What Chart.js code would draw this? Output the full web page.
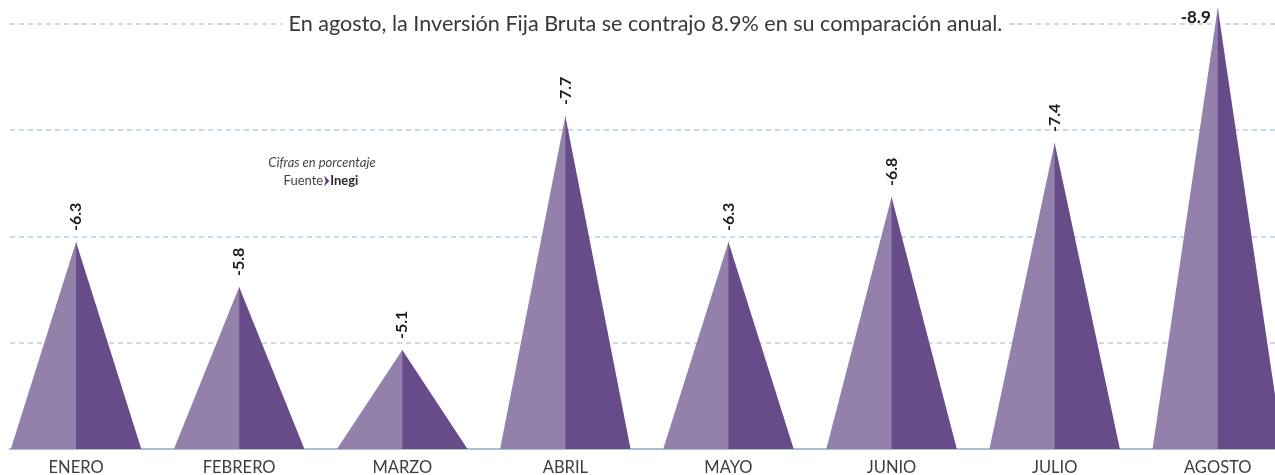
<!DOCTYPE html>
<html><head><meta charset="utf-8">
<script src="https://cdn.jsdelivr.net/npm/chart.js@4/dist/chart.umd.min.js"></script>
<style>html,body{margin:0;padding:0;background:#fff}#wrap{width:1275px;height:475px;position:relative}</style>
</head><body><div id="wrap"><canvas id="c"></canvas></div>
<script>
const months = ['ENERO','FEBRERO','MARZO','ABRIL','MAYO','JUNIO','JULIO','AGOSTO'];
const values = [6.3, 5.8, 5.1, 7.7, 6.3, 6.8, 7.4, 8.9];
const valueLabels = ['-6.3','-5.8','-5.1','-7.7','-6.3','-6.8','-7.4','-8.9'];
const gridValues = [5.18, 6.36, 7.54, 8.72];
const axisBase = 4;
const titleText = 'En agosto, la Inversión Fija Bruta se contrajo 8.9% en su comparación anual.';
const noteLine1 = 'Cifras en porcentaje';
const noteSource = ['Fuente', 'Inegi'];

const LIGHT = '#9481ab';
const DARK = '#684b89';
const FONT = 'Lato';
const TFONT = 'Lato';

const trianglePlugin = {
  id: 'triangles',
  afterDatasetsDraw(chart) {
    const ctx = chart.ctx;
    const meta = chart.getDatasetMeta(0);
    const area = chart.chartArea;
    ctx.save();
    ctx.beginPath();
    ctx.rect(area.left, 0, area.right - area.left, area.bottom + 1);
    ctx.clip();
    meta.data.forEach((bar) => {
      const p = bar.getProps(['x', 'y', 'base', 'width'], true);
      const half = p.width / 2;
      ctx.fillStyle = LIGHT;
      ctx.beginPath();
      ctx.moveTo(p.x - half, p.base);
      ctx.lineTo(p.x, p.y);
      ctx.lineTo(p.x + 0.5, p.y);
      ctx.lineTo(p.x + 0.5, p.base);
      ctx.closePath();
      ctx.fill();
      ctx.fillStyle = DARK;
      ctx.beginPath();
      ctx.moveTo(p.x, p.base);
      ctx.lineTo(p.x, p.y);
      ctx.lineTo(p.x + half, p.base);
      ctx.closePath();
      ctx.fill();
    });
    ctx.restore();
    // value labels
    ctx.save();
    ctx.fillStyle = '#1b1b1b';
    ctx.font = 'bold 16px ' + FONT;
    meta.data.forEach((bar, i) => {
      const p = bar.getProps(['x', 'y'], true);
      const txt = valueLabels[i];
      const w = ctx.measureText(txt).width;
      if (p.y - 12 - w < area.top) {
        ctx.font = 'bold 17px ' + FONT;
        ctx.textAlign = 'right';
        ctx.textBaseline = 'middle';
        ctx.fillText(txt, p.x - 7, p.y + 9);
        ctx.font = 'bold 16px ' + FONT;
      } else {
        ctx.save();
        ctx.translate(p.x, p.y - 11);
        ctx.rotate(-Math.PI / 2);
        ctx.textAlign = 'left';
        ctx.textBaseline = 'middle';
        ctx.fillText(txt, 0, 0);
        ctx.restore();
      }
    });
    ctx.restore();
  },
  afterDraw(chart) {
    const ctx = chart.ctx;
    const yS = chart.scales.y;
    const cx = chart.width / 2 + 8;
    const ty = yS.getPixelForValue(gridValues[gridValues.length - 1]);
    ctx.save();
    ctx.font = '19px ' + TFONT;
    const w0 = ctx.measureText(titleText).width;
    const fs = 19 * 714 / w0;
    ctx.font = fs.toFixed(2) + 'px ' + TFONT;
    const w = ctx.measureText(titleText).width;
    ctx.fillStyle = '#fff';
    ctx.fillRect(cx - w / 2 - 6, ty - 14, w + 12, 28);
    ctx.fillStyle = '#383838';
    ctx.textAlign = 'center';
    ctx.textBaseline = 'middle';
    ctx.fillText(titleText, cx, ty);
    // note
    ctx.font = 'italic 13px ' + FONT;
    ctx.fillStyle = '#444';
    ctx.fillText(noteLine1, 322, 163);
    ctx.font = '13px ' + FONT;
    const w1 = ctx.measureText(noteSource[0]).width;
    ctx.font = 'bold 13px ' + FONT;
    const w2 = ctx.measureText(noteSource[1]).width;
    const arrowW = 7;
    let x0 = 321 - (w1 + arrowW + w2) / 2;
    ctx.textAlign = 'left';
    ctx.font = '13px ' + FONT;
    ctx.fillStyle = '#444';
    ctx.fillText(noteSource[0], x0, 181);
    ctx.fillStyle = '#5b2e8c';
    ctx.beginPath();
    ctx.moveTo(x0 + w1 + 1, 175.5);
    ctx.lineTo(x0 + w1 + 6, 181);
    ctx.lineTo(x0 + w1 + 1, 186.5);
    ctx.lineTo(x0 + w1 + 2.5, 181);
    ctx.closePath();
    ctx.fill();
    ctx.font = 'bold 13px ' + FONT;
    ctx.fillStyle = '#2a2a2a';
    ctx.fillText(noteSource[1], x0 + w1 + arrowW, 181);
    ctx.restore();
  }
};

new Chart(document.getElementById('c'), {
  type: 'bar',
  data: {
    datasets: [{
      data: values.map((v, i) => ({ x: i, y: [axisBase, v] })),
      backgroundColor: 'rgba(0,0,0,0)',
      borderWidth: 0,
      categoryPercentage: 0.8,
      barPercentage: 1.0
    }]
  },
  options: {
    responsive: true,
    maintainAspectRatio: false,
    animation: false,
    layout: { padding: { left: 10, right: 0, top: 0, bottom: 0 } },
    plugins: { legend: { display: false }, tooltip: { enabled: false }, title: { display: false } },
    scales: {
      x: {
        type: 'linear',
        offset: false,
        min: -0.405,
        max: 7.351,
        grid: { display: false, drawTicks: false, offset: false },
        border: { display: true, color: '#a9c2ca', width: 2 },
        afterBuildTicks: (s) => { s.ticks = months.map((m, i) => ({ value: i })); },
        afterFit: (s) => { s.height = 26; },
        ticks: {
          autoSkip: false,
          maxRotation: 0,
          padding: 9,
          color: '#3d3d3d',
          font: { family: FONT, size: 16.5 },
          callback: (v) => months[v]
        }
      },
      y: {
        min: axisBase,
        max: 8.99,
        afterBuildTicks: (s) => { s.ticks = gridValues.map(v => ({ value: v })); },
        afterFit: (s) => { s.width = 0; },
        ticks: { display: false },
        grid: { color: '#c9dbe4', lineWidth: 2, drawTicks: false },
        border: { display: false, dash: [5, 4] }
      }
    }
  },
  plugins: [trianglePlugin]
});
</script>
</body></html>
